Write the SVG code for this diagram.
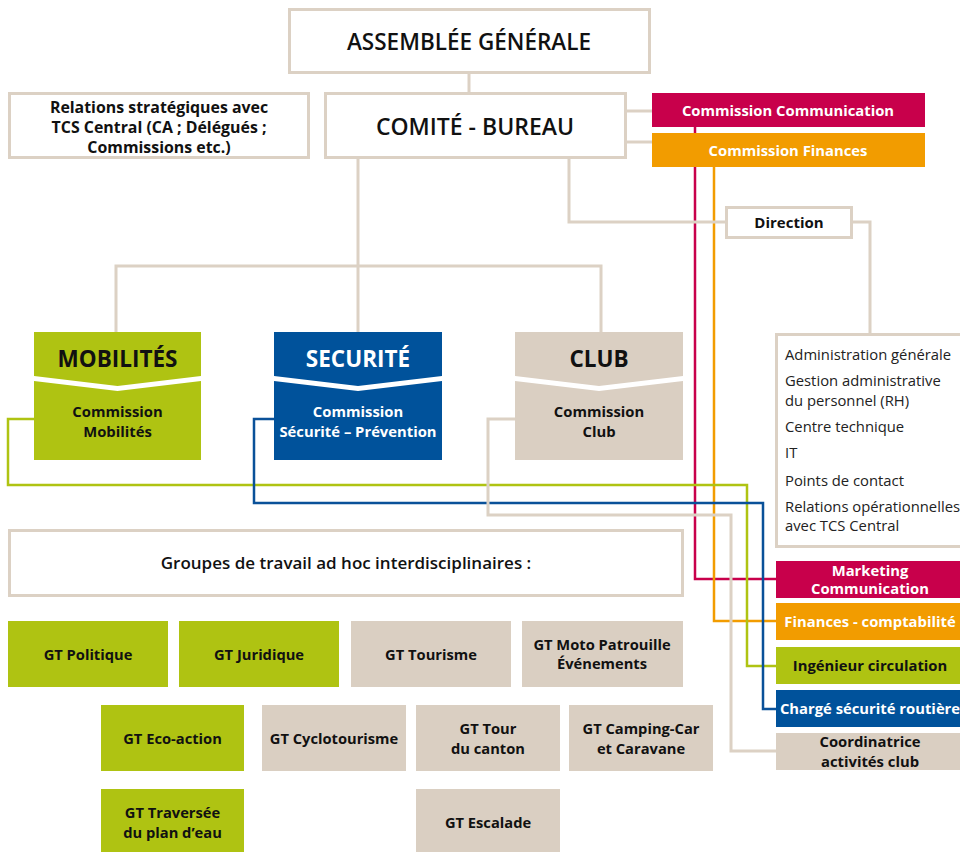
<svg xmlns="http://www.w3.org/2000/svg" width="960" height="852" viewBox="0 0 960 852">
<style>
text{font-family:"Open Sans","Noto Sans","Liberation Sans",sans-serif;text-anchor:middle;fill:#111}
.b{font-weight:700}
.w{fill:#fff}
.box{fill:#fff;stroke:#dcd1c4;stroke-width:3}
.con{fill:none;stroke:#dcd1c4;stroke-width:3}
.cm{fill:none;stroke:#c8004b;stroke-width:2.5}
.co{fill:none;stroke:#f29c00;stroke-width:2.5}
.cg{fill:none;stroke:#afc312;stroke-width:2.5}
.cb{fill:none;stroke:#0a5199;stroke-width:2.5}
.g{fill:#afc312}
.bl{fill:#00529b}
.be{fill:#dacfc2}
.mg{fill:#c8004b}
.or{fill:#f29c00}
.gt{font-size:14.7px;font-weight:700}
.hd{font-size:22.5px;font-weight:700}
.sm{font-size:14.8px;font-weight:700}
.ad{font-size:14.8px;text-anchor:start;fill:#222}
</style>
<g id="connectors">
<path class="con" d="M469,73V93"/>
<path class="con" d="M358,158V332"/>
<path class="con" d="M116,332V266H601V332"/>
<path class="con" d="M626,111H652"/>
<path class="con" d="M626,142H652"/>
<path class="cm" d="M695,127V579H776"/>
<path class="co" d="M714,167V621H776"/>
<path class="con" d="M569,158V222H726"/>
<path class="con" d="M852,222H870V334"/>
<path class="cg" d="M34,419H8V485H747V666H776"/>
<path class="cb" d="M274,419H254V503H763V709H776"/>
<path class="con" d="M515,419H488V515H731V751H776"/>
</g>
<g id="assemblee">
<rect class="box" x="289.5" y="9.5" width="360" height="63"/>
<text x="469" y="49.5" font-size="22.5" font-weight="600">ASSEMBLÉE GÉNÉRALE</text>
</g>
<g id="relations">
<rect class="box" x="9.5" y="93.5" width="299" height="64"/>
<text class="b" x="159" y="112.5" font-size="15.9">Relations stratégiques avec</text>
<text class="b" x="159" y="132.5" font-size="15.9">TCS Central (CA ; Délégués ;</text>
<text class="b" x="159" y="152.5" font-size="15.9">Commissions etc.)</text>
</g>
<g id="comite">
<rect class="box" x="325.5" y="93.5" width="300" height="64"/>
<text x="475" y="134.5" font-size="23" font-weight="600">COMITÉ - BUREAU</text>
</g>
<g id="comm-communication">
<rect class="mg" x="652" y="93" width="273" height="34"/>
<text class="w sm" x="788" y="115.5" font-size="14.7">Commission Communication</text>
</g>
<g id="comm-finances">
<rect class="or" x="652" y="133" width="273" height="34"/>
<text class="w sm" x="788" y="155.5">Commission Finances</text>
</g>
<g id="direction">
<rect class="box" x="726.5" y="207.5" width="125" height="30"/>
<text class="b" x="789" y="227.5" font-size="15">Direction</text>
</g>
<g id="administration">
<rect class="box" x="776.5" y="334.5" width="190" height="212"/>
<text class="ad" x="785" y="360">Administration générale</text>
<text class="ad" x="785" y="386">Gestion administrative</text>
<text class="ad" x="785" y="406">du personnel (RH)</text>
<text class="ad" x="785" y="432">Centre technique</text>
<text class="ad" x="785" y="458">IT</text>
<text class="ad" x="785" y="486">Points de contact</text>
<text class="ad" x="785" y="512">Relations opérationnelles</text>
<text class="ad" x="785" y="531">avec TCS Central</text>
</g>
<g id="mobilites">
<polygon class="g" points="34,332 201,332 201,376 117.5,386 34,376"/>
<polygon class="g" points="34,381 117.5,391 201,381 201,460 34,460"/>
<text class="hd" x="117.5" y="367">MOBILITÉS</text>
<text class="sm" x="117.5" y="416.5">Commission</text>
<text class="sm" x="117.5" y="436.5">Mobilités</text>
</g>
<g id="securite">
<polygon class="bl" points="274,332 442,332 442,376 358,386 274,376"/>
<polygon class="bl" points="274,381 358,391 442,381 442,460 274,460"/>
<text class="hd w" x="358" y="367">SECURITÉ</text>
<text class="sm w" x="358" y="416.5">Commission</text>
<text class="sm w" x="358" y="436.5">Sécurité – Prévention</text>
</g>
<g id="club">
<polygon class="be" points="515,332 683,332 683,376 599,386 515,376"/>
<polygon class="be" points="515,381 599,391 683,381 683,460 515,460"/>
<text class="hd" x="599" y="367">CLUB</text>
<text class="sm" x="599" y="416.5">Commission</text>
<text class="sm" x="599" y="436.5">Club</text>
</g>
<g id="groupes">
<rect class="box" x="9.5" y="530.5" width="673" height="65"/>
<text x="346" y="569" font-size="17" font-weight="600">Groupes de travail ad hoc interdisciplinaires :</text>
</g>
<g id="gt-politique"><rect class="g" x="8" y="621" width="160" height="66"/><text class="gt" x="88" y="659.5">GT Politique</text></g>
<g id="gt-juridique"><rect class="g" x="179" y="621" width="160" height="66"/><text class="gt" x="259" y="659.5">GT Juridique</text></g>
<g id="gt-tourisme"><rect class="be" x="351" y="621" width="160" height="66"/><text class="gt" x="431" y="659.5">GT Tourisme</text></g>
<g id="gt-moto"><rect class="be" x="522" y="621" width="161" height="66"/><text class="gt" x="602" y="650">GT Moto Patrouille</text><text class="gt" x="602" y="668.5">Événements</text></g>
<g id="gt-eco"><rect class="g" x="101" y="705" width="143" height="66"/><text class="gt" x="172.5" y="743.5">GT Eco-action</text></g>
<g id="gt-cyclo"><rect class="be" x="262" y="705" width="144" height="66"/><text class="gt" x="334" y="743.5">GT Cyclotourisme</text></g>
<g id="gt-tour"><rect class="be" x="416" y="705" width="144" height="66"/><text class="gt" x="488" y="734">GT Tour</text><text class="gt" x="488" y="754">du canton</text></g>
<g id="gt-camping"><rect class="be" x="569" y="705" width="144" height="66"/><text class="gt" x="641" y="734">GT Camping-Car</text><text class="gt" x="641" y="754">et Caravane</text></g>
<g id="gt-traversee"><rect class="g" x="101" y="789" width="143" height="63"/><text class="gt" x="172.5" y="818">GT Traversée</text><text class="gt" x="172.5" y="838">du plan d’eau</text></g>
<g id="gt-escalade"><rect class="be" x="416" y="789" width="144" height="63"/><text class="gt" x="488" y="828">GT Escalade</text></g>
<g id="marketing"><rect class="mg" x="776" y="561" width="190" height="37"/><text class="sm w" x="870" y="575.5" font-size="14.2">Marketing</text><text class="sm w" x="870" y="593.5" font-size="14.2">Communication</text></g>
<g id="finances"><rect class="or" x="776" y="603" width="190" height="37"/><text class="sm w" x="870" y="626.5">Finances - comptabilité</text></g>
<g id="ingenieur"><rect class="g" x="776" y="647" width="190" height="37"/><text class="sm" x="870" y="670.5">Ingénieur circulation</text></g>
<g id="charge"><rect class="bl" x="776" y="690" width="190" height="37"/><text class="sm w" x="870" y="713.5" font-size="14.4">Chargé sécurité routière</text></g>
<g id="coordinatrice"><rect class="be" x="776" y="733" width="190" height="37"/><text class="sm" x="870" y="747">Coordinatrice</text><text class="sm" x="870" y="767">activités club</text></g>
</svg>
